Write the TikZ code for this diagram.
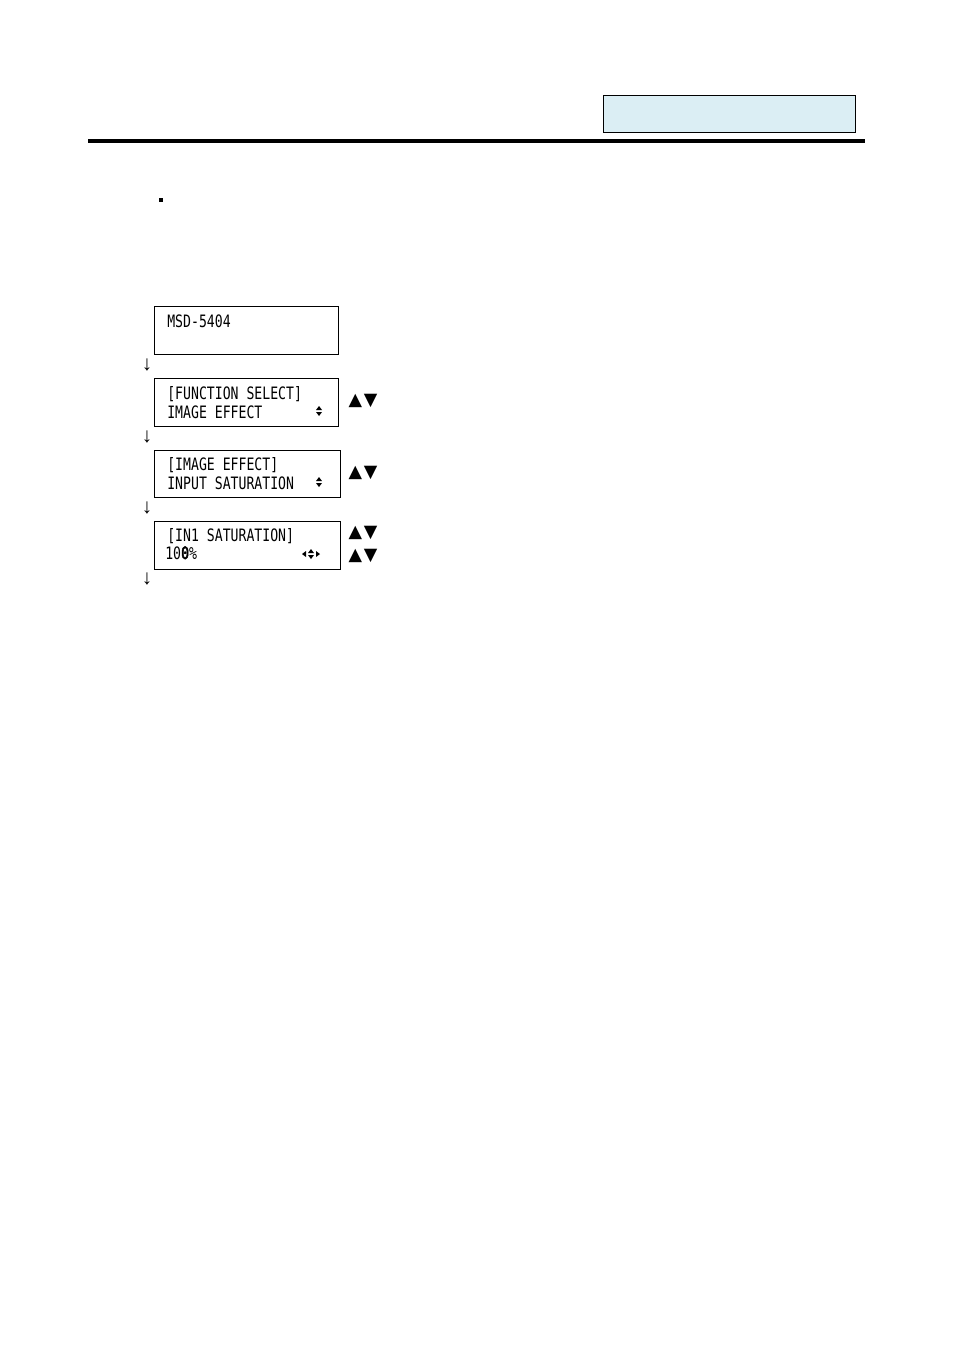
\documentclass[tikz,border=0pt]{standalone}
\usepackage{fontspec}
\newfontfamily\lcdfont{DejaVu Sans Mono}[FakeStretch=0.77]
\newfontfamily\lcdboldfont{DejaVu Sans Mono}[FakeStretch=0.77, FakeBold=3]
\newfontfamily\keyfont{DejaVu Sans}
\newfontfamily\arrowfont{Liberation Serif}
\definecolor{headblue}{RGB}{219, 238, 244}
\usepackage{tikz}
\usetikzlibrary{positioning}

\tikzset{
  lcdframe/.style={draw, line width=0.6pt},
  lcdtext/.style={anchor=base west, inner sep=0, font=\lcdfont\fontsize{10.7}{12}\selectfont},
  keymark/.style={inner sep=0, font=\keyfont\fontsize{11}{12}\selectfont},
  downmark/.style={inner sep=0, font=\arrowfont\fontsize{13}{14}\selectfont},
  updown/.pic={
    \fill (-3, -1) -- (3, -1) -- (0, -5) -- cycle;
    \fill (-3, 1) -- (3, 1) -- (0, 5) -- cycle;
  },
  leftright/.pic={
    \fill (-9, 0) -- (-5, -3) -- (-5, 3) -- cycle;
    \fill (9, 0) -- (5, -3) -- (5, 3) -- cycle;
  }
}

\begin{document}
\begin{tikzpicture}[x=0.2201mm, y=-0.2201mm]
  \useasboundingbox (0, 0) rectangle (954, 1350);

  % Header
  \fill[headblue] (603, 95) rectangle (855, 132);
  \draw[line width=0.5pt] (603, 95) rectangle (855, 132);
  \fill (88, 139) rectangle (865, 143);
  \fill (159, 198) rectangle (163, 202);

  % Start screen
  \draw[lcdframe] (154, 306) rectangle (338, 354);
  \node[lcdtext] (model) at (167, 327) {MSD-5404};
  \node[downmark] (down1) at (147, 365) {↓};

  % Function select
  \draw[lcdframe] (154, 378) rectangle (338, 426);
  \node[lcdtext] (funcsel) at (167, 399) {[FUNCTION SELECT]};
  \node[lcdtext] (imgeff) at (167, 418) {IMAGE EFFECT};
  \pic at (319, 411) {updown};
  \node[keymark] (keys1) at (363, 401) {▲\kern1pt▼};
  \node[downmark] (down2) at (147, 437) {↓};

  % Image effect
  \draw[lcdframe] (154, 450) rectangle (340, 497);
  \node[lcdtext] (imgeffhead) at (167, 470) {[IMAGE EFFECT]};
  \node[lcdtext] (insat) at (167, 489) {INPUT SATURATION};
  \pic at (319, 482) {updown};
  \node[keymark] (keys2) at (363, 473) {▲\kern1pt▼};
  \node[downmark] (down3) at (147, 508) {↓};

  % Saturation value
  \draw[lcdframe] (154, 521) rectangle (340, 569);
  \node[lcdtext] (sathead) at (167, 541) {[IN1 SATURATION]};
  \node[lcdtext] (satval) at (165, 559) {10{\lcdboldfont 0}\%};
  \pic at (311, 554) {updown};
  \pic at (311, 554) {leftright};
  \node[keymark] (keys3) at (363, 533) {▲\kern1pt▼};
  \node[keymark] (keys4) at (363, 556) {▲\kern1pt▼};
  \node[downmark] (down4) at (147, 579) {↓};
\end{tikzpicture}
\end{document}
